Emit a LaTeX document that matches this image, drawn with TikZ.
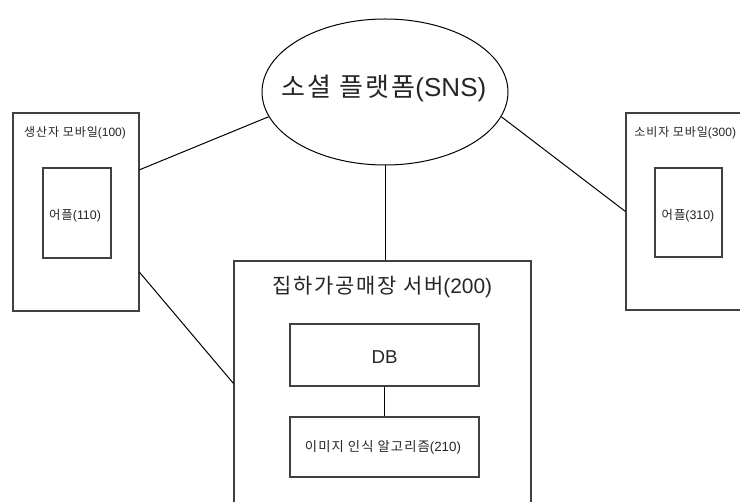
\documentclass[tikz,border=0pt]{standalone}
\usepackage{fontspec}
\setmainfont{Liberation Sans}
\newfontfamily\kr[LetterSpace=8]{Noto Sans CJK KR}
\usetikzlibrary{shapes.geometric,calc}
\begin{document}
\begin{tikzpicture}[x=0.75pt,y=-0.75pt,
  box/.style={draw=black!75, line width=0.8pt, rectangle, inner sep=0pt},
  conn/.style={draw=black, line width=0.75pt},
  lbl/.style={inner sep=0pt, text=black!85}]
\clip (0,0) rectangle (740,502);
\fill[white] (0,0) rectangle (740,502);
% SNS ellipse
\node[ellipse, draw=black, line width=0.75pt, inner sep=0pt,
      minimum width=184.5pt, minimum height=109.5pt] (sns) at (385,92) {};
\node[lbl, font=\fontsize{19.5}{22}\selectfont] (snsl) at (384,88) {{\kr 소셜 플랫폼}(SNS)};
% producer mobile
\node[box, minimum width=94.5pt, minimum height=148.5pt] (prod) at (76,212) {};
\node[lbl, font=\fontsize{9}{11}\selectfont] (prodl) at (75,133) {{\kr 생산자 모바일}(100)};
\node[box, minimum width=51pt, minimum height=67.5pt] (app1) at (77,213) {};
\node[lbl, font=\fontsize{9.3}{11}\selectfont] (app1l) at (75,216) {{\kr 어플}(110)};
% consumer mobile
\node[box, minimum width=94.5pt, minimum height=147.75pt] (cons) at (689,211.5) {};
\node[lbl, anchor=west, font=\fontsize{9}{11}\selectfont] (consl) at (634,133) {{\kr 소비자 모바일}(300)};
\node[box, minimum width=50.25pt, minimum height=66.75pt] (app3) at (688.5,212.5) {};
\node[lbl, font=\fontsize{9.3}{11}\selectfont] (app3l) at (688,216) {{\kr 어플}(310)};
% server
\node[box, minimum width=222.75pt, minimum height=209.25pt] (srv) at (382.5,400.5) {};
\node[lbl, font=\fontsize{15.7}{18}\selectfont] (srvl) at (382.5,287) {{\kr 집하가공매장 서버}(200)};
\node[box, minimum width=141.75pt, minimum height=46.5pt] (db) at (384.5,355) {};
\node[lbl, font=\fontsize{14}{16}\selectfont] (dbl) at (384.5,357) {DB};
\node[box, minimum width=141.75pt, minimum height=45pt] (alg) at (384.5,447) {};
\node[lbl, font=\fontsize{10}{12}\selectfont] (algl) at (383,447) {{\kr 이미지 인식 알고리즘}(210)};
% connectors
\draw[conn] ($(prod.north east)!0.288!(prod.south east)$) -- (sns.192);
\draw[conn] (sns.348) -- (cons.west);
\draw[conn] (sns.south) -- (sns.south |- srv.north);
\draw[conn] ($(prod.north east)!0.803!(prod.south east)$) -- ($(srv.north west)+(0,123)$);
\draw[conn] (db.south) -- (alg.north);
\end{tikzpicture}
\end{document}
